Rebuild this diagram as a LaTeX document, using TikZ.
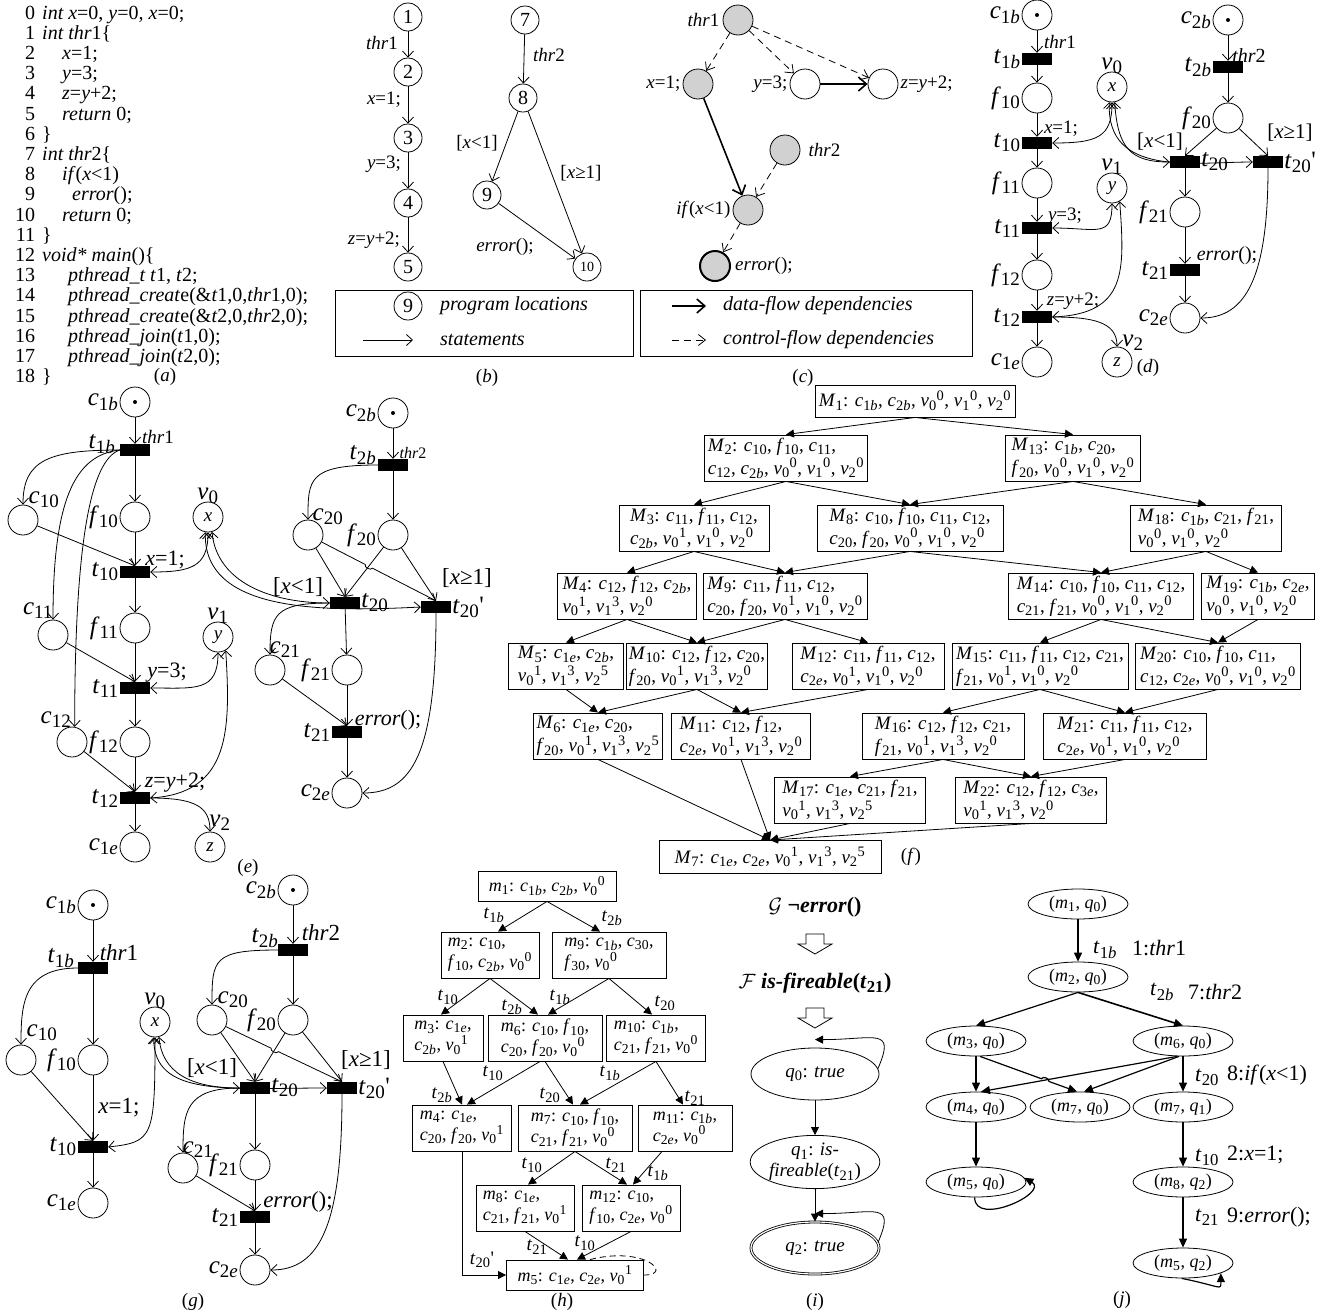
\documentclass[tikz,border=0pt]{standalone}
\usepackage{fontspec}
\setmainfont{Liberation Serif}
\usetikzlibrary{arrows.meta,positioning,calc,shapes.geometric}
\makeatletter
\def\defaultscriptratio{.76}
\makeatother

\newcommand{\fs}[2]{\fontsize{#1}{#2}\selectfont}
\newcommand{\plc}[2]{\textit{#1}\textsubscript{#2}}
\newcommand{\cb}[1]{\plc{c}{#1\textit{b}}}
\newcommand{\ce}[1]{\plc{c}{#1\textit{e}}}
\newcommand{\tb}[1]{\plc{t}{#1\textit{b}}}
\newcommand{\tp}{\plc{t}{20}\textquotesingle}
\newcommand{\vx}[2]{\textit{v}\textsubscript{#1}\textsuperscript{#2}}
\newcommand{\lno}[1]{\makebox[18pt][r]{#1}\hspace{7pt}}

\tikzset{
  code/.style={anchor=base west, inner sep=0pt, font=\fs{20}{20}},
  plab/.style={inner sep=0pt, font=\fs{19}{19}},
  place/.style={circle, draw, line width=0.8pt, minimum size=30pt, inner sep=0pt, font=\fs{19}{19}\itshape},
  trans/.style={fill=black, minimum width=30pt, minimum height=12pt, inner sep=0pt},
  pname/.style={inner sep=1pt, font=\fs{25}{25}},
  stmt/.style={inner sep=0pt, font=\fs{19}{19}},
  parc/.style={line width=0.8pt, -{Straight Barb[length=6pt,width=11pt]}},
  pbi/.style={line width=0.8pt, {Straight Barb[length=6pt,width=11pt]}-{Straight Barb[length=6pt,width=11pt]}},
  loc/.style={circle, draw, line width=0.8pt, minimum size=28pt, inner sep=0pt, font=\fs{20}{20}},
  dep/.style={circle, draw, line width=0.8pt, fill=black!18, minimum size=30pt, inner sep=0pt},
  dnode/.style={circle, draw, line width=0.8pt, minimum size=30pt, inner sep=0pt},
  dflow/.style={line width=1.6pt, -{Straight Barb[length=8pt,width=14pt]}},
  cflow/.style={line width=0.8pt, dash pattern=on 7pt off 5pt, -{Straight Barb[length=7pt,width=11pt]}},
  mk/.style={draw, line width=0.9pt, align=left, inner sep=2pt, minimum height=46pt, font=\fs{19}{23}},
  hk/.style={draw, line width=0.9pt, align=left, inner sep=2pt, minimum height=46pt, font=\fs{18}{21}},
  tri/.style={line width=0.8pt, -{Triangle[length=8pt,width=8pt]}},
  hlab/.style={inner sep=0pt, font=\fs{19}{19}},
  st/.style={ellipse, draw, line width=0.8pt, minimum width=100pt, minimum height=30pt, inner sep=0pt, font=\fs{18}{18}},
  qst/.style={ellipse, draw, line width=0.8pt, minimum width=128pt, minimum height=52pt, inner sep=0pt, align=center, font=\fs{19}{21}},
  jlab/.style={anchor=west, inner sep=0pt, font=\fs{22}{22}},
  jarr/.style={line width=1.2pt, -{Triangle[length=9pt,width=8pt]}},
  hollow/.style={line width=0.8pt, line join=miter},
}

\begin{document}
\begin{tikzpicture}[x=1pt,y=-1pt]
\useasboundingbox (0,0) rectangle (1342,1315);

%%%%% (a) %%%%%
\node[code] (a0) at (17,19) {\lno{0}\textit{int x}=0, \textit{y}=0, \textit{x}=0;};
\node[code] (a1) at (17,39.2) {\lno{1}\textit{int thr}1\{};
\node[code] (a2) at (17,59.4) {\lno{2}\hspace{20pt}\textit{x}=1;};
\node[code] (a3) at (17,79.6) {\lno{3}\hspace{20pt}\textit{y}=3;};
\node[code] (a4) at (17,99.8) {\lno{4}\hspace{20pt}\textit{z}=\textit{y}+2;};
\node[code] (a5) at (17,120) {\lno{5}\hspace{20pt}\textit{return} 0;};
\node[code] (a6) at (17,140.2) {\lno{6}\}};
\node[code] (a7) at (17,160.4) {\lno{7}\textit{int thr}2\{};
\node[code] (a8) at (17,180.6) {\lno{8}\hspace{20pt}\textit{if}(\textit{x}<1)};
\node[code] (a9) at (17,200.8) {\lno{9}\hspace{30pt}\textit{error}();};
\node[code] (a10) at (17,221) {\lno{10}\hspace{20pt}\textit{return} 0;};
\node[code] (a11) at (17,241.2) {\lno{11}\}};
\node[code] (a12) at (17,261.4) {\lno{12}\textit{void* main}()\{};
\node[code] (a13) at (17,281.6) {\lno{13}\hspace{26pt}\textit{pthread\_t t}1, \textit{t}2;};
\node[code] (a14) at (17,301.8) {\lno{14}\hspace{26pt}\textit{pthread\_creat}e(\&\textit{t}1,0,\textit{thr}1,0);};
\node[code] (a15) at (17,322) {\lno{15}\hspace{26pt}\textit{pthread\_creat}e(\&\textit{t}2,0,\textit{thr}2,0);};
\node[code] (a16) at (17,342.2) {\lno{16}\hspace{26pt}\textit{pthread\_join}(\textit{t}1,0);};
\node[code] (a17) at (17,362.4) {\lno{17}\hspace{26pt}\textit{pthread\_join}(\textit{t}2,0);};
\node[code] (a18) at (17,382.6) {\lno{18}\}};
\node[plab] (acap) at (165,377) {(\textit{a})};

%%%%% (b) %%%%%
\node[loc] (b1) at (408,17) {1};
\node[loc] (b2) at (408,72) {2};
\node[loc] (b3) at (408,138) {3};
\node[loc] (b4) at (408,203) {4};
\node[loc] (b5) at (408,267) {5};
\node[loc] (b7) at (525,20) {7};
\node[loc] (b8) at (523,98) {8};
\node[loc] (b9) at (487,195) {9};
\node[loc,font=\fs{14}{14}] (b10) at (587,267) {10};
\draw[parc] (b1) -- (b2);
\draw[parc] (b2) -- (b3);
\draw[parc] (b3) -- (b4);
\draw[parc] (b4) -- (b5);
\draw[parc] (b7) -- (b8);
\draw[parc] (b8) -- (b9);
\draw[parc] (b8) -- (b10);
\draw[parc] (b9) -- (b10);
\node[stmt] (lb1) at (382,43) {\textit{thr}1};
\node[stmt] (lb2) at (384,100) {\textit{x}=1;};
\node[stmt] (lb3) at (384,164) {\textit{y}=3;};
\node[stmt] (lb4) at (374,240) {\textit{z}=\textit{y}+2;};
\node[stmt] (lb7) at (549,55) {\textit{thr}2};
\node[stmt] (lb8) at (477,143) {[\textit{x}<1]};
\node[stmt] (lb9) at (581,173) {[\textit{x}≥1]};
\node[stmt] (lb10) at (505,247) {\textit{error}();};
\draw[line width=0.8pt] (335,290) rectangle (633,356);
\node[loc] (bleg) at (408,306) {9};
\node[stmt,anchor=west,font=\fs{20}{20}] (lbleg1) at (440,306) {\textit{program locations}};
\coordinate (bla) at (363,340);
\coordinate (blb) at (413,340);
\draw[parc] (bla) -- (blb);
\node[stmt,anchor=west,font=\fs{20}{20}] (lbleg2) at (440,340) {\textit{statements}};
\node[plab] (bcap) at (487,378) {(\textit{b})};

%%%%% (c) %%%%%
\node[dep] (cthr1) at (738,20) {};
\node[dep] (cx) at (698,84) {};
\node[dnode] (cy) at (805,84) {};
\node[dnode] (cz) at (883,84) {};
\node[dep] (cthr2) at (785,150) {};
\node[dep] (cif) at (748,210) {};
\node[dep,line width=2pt] (cerr) at (715,266) {};
\node[stmt,left=3pt of cthr1] (lcthr1) {\textit{thr}1};
\node[stmt,left=2pt of cx] (lcx) {\textit{x}=1;};
\node[stmt,left=2pt of cy] (lcy) {\textit{y}=3;};
\node[stmt,right=2pt of cz] (lcz) {\textit{z}=\textit{y}+2;};
\node[stmt,right=8pt of cthr2] (lcthr2) {\textit{thr}2};
\node[stmt,left=2pt of cif] (lcif) {\textit{if}(\textit{x}<1)};
\node[stmt,right=4pt of cerr] (lcerr) {\textit{error}();};
\draw[cflow] (cthr1) -- (cx);
\draw[cflow] (cthr1) -- (cy);
\draw[cflow] (cthr1) -- (cz);
\draw[dflow] (cy) -- (cz);
\draw[dflow] (cx) -- (cif);
\draw[cflow] (cthr2) -- (cif);
\draw[cflow] (cif) -- (cerr);
\draw[line width=0.8pt] (640,290) rectangle (972,356);
\coordinate (cla) at (672,306);
\coordinate (clb) at (706,306);
\draw[dflow] (cla) -- (clb);
\node[stmt,anchor=west,font=\fs{20}{20}] (lcleg1) at (723,306) {\textit{data-flow dependencies}};
\coordinate (clc) at (672,340);
\coordinate (cld) at (706,340);
\draw[cflow] (clc) -- (cld);
\node[stmt,anchor=west,font=\fs{20}{20}] (lcleg2) at (723,340) {\textit{control-flow dependencies}};
\node[plab] (ccap) at (803,378) {(\textit{c})};

%%%%% (d) %%%%%
\node[place] (dc1b) at (1037,15) {};
\fill (dc1b) circle (2);
\node[trans] (dt1b) at (1037,59) {};
\node[place] (df10) at (1037,98) {};
\node[trans] (dt10) at (1037,143) {};
\node[place] (df11) at (1037,183) {};
\node[trans] (dt11) at (1037,228) {};
\node[place] (df12) at (1037,275) {};
\node[trans] (dt12) at (1037,317) {};
\node[place] (dc1e) at (1037,362) {};
\node[place] (dv0) at (1112,87) {x};
\node[place] (dv1) at (1112,188) {y};
\node[place] (dv2) at (1117,362) {z};
\node[place] (dc2b) at (1228,20) {};
\fill (dc2b) circle (2);
\node[trans] (dt2b) at (1228,67) {};
\node[place] (df20) at (1228,118) {};
\node[trans] (dt20) at (1185,162) {};
\node[trans] (dt20p) at (1268,162) {};
\node[place] (df21) at (1185,212) {};
\node[trans] (dt21) at (1185,270) {};
\node[place] (dc2e) at (1185,318) {};
\node[pname,left=0pt of dc1b] (ldc1b) {\cb{1}};
\node[pname,left=0pt of dt1b] (ldt1b) {\tb{1}};
\node[pname,left=0pt of df10] (ldf10) {\plc{f}{10}};
\node[pname,left=0pt of dt10] (ldt10) {\plc{t}{10}};
\node[pname,left=0pt of df11] (ldf11) {\plc{f}{11}};
\node[pname,left=0pt of dt11] (ldt11) {\plc{t}{11}};
\node[pname,left=0pt of df12] (ldf12) {\plc{f}{12}};
\node[pname,left=0pt of dt12] (ldt12) {\plc{t}{12}};
\node[pname,left=0pt of dc1e] (ldc1e) {\ce{1}};
\node[pname,above=-3pt of dv0] (ldv0) {\plc{v}{0}};
\node[pname,above=-3pt of dv1] (ldv1) {\plc{v}{1}};
\node[pname] (ldv2) at (1133,343) {\plc{v}{2}};
\node[pname,left=0pt of dc2b] (ldc2b) {\cb{2}};
\node[pname,left=0pt of dt2b] (ldt2b) {\tb{2}};
\node[pname,left=0pt of df20] (ldf20) {\plc{f}{20}};
\node[pname,right=0pt of dt20] (ldt20) {\plc{t}{20}};
\node[pname,right=0pt of dt20p] (ldt20p) {\tp};
\node[pname,left=0pt of df21] (ldf21) {\plc{f}{21}};
\node[pname,left=0pt of dt21] (ldt21) {\plc{t}{21}};
\node[pname,left=0pt of dc2e] (ldc2e) {\ce{2}};
\node[stmt] (sdthr1) at (1060,42) {\textit{thr}1};
\node[stmt,font=\fs{20}{20}] (sdthr2) at (1249,56) {\textit{thr}2};
\node[stmt] (sdx) at (1061,129) {\textit{x}=1;};
\node[stmt] (sdy) at (1065,216) {\textit{y}=3;};
\node[stmt] (sdz) at (1073,301) {\textit{z}=\textit{y}+2;};
\node[stmt,font=\fs{21}{21}] (sdlt) at (1160,142) {[\textit{x}<1]};
\node[stmt,font=\fs{21}{21}] (sdge) at (1290,133) {[\textit{x}≥1]};
\node[stmt,font=\fs{20}{20}] (sderr) at (1227,256) {\textit{error}();};
\node[plab] (dcap) at (1148,368) {(\textit{d})};
\draw[parc] (dc1b) -- (dt1b);
\draw[parc] (dt1b) -- (df10);
\draw[parc] (df10) -- (dt10);
\draw[parc] (dt10) -- (df11);
\draw[parc] (df11) -- (dt11);
\draw[parc] (dt11) -- (df12);
\draw[parc] (df12) -- (dt12);
\draw[parc] (dt12) -- (dc1e);
\draw[pbi] (dt10.east) .. controls +(45,0) and +(0,35) .. (dv0.south);
\draw[pbi] (dt11.east) .. controls +(45,0) and +(0,35) .. (dv1.south);
\draw[pbi] (dt12.east) .. controls +(75,-3) and +(5,70) .. (dv1.-60);
\draw[parc] (dt12.east) .. controls +(40,0) and +(0,-25) .. (dv2.north);
\draw[pbi] (dv0.-80) .. controls +(3,45) and +(-40,0) .. (dt20.west);
\draw[pbi] (dv0.-100) .. controls +(-3,75) and +(-60,0) .. (dt20p.west);
\draw[parc] (dc2b) -- (dt2b);
\draw[parc] (dt2b) -- (df20);
\draw[parc] (df20) -- (dt20.north);
\draw[parc] (df20) -- (dt20p.north);
\draw[parc] (dt20) -- (df21);
\draw[parc] (df21) -- (dt21);
\draw[parc] (dt21) -- (dc2e);
\draw[parc] (dt20p.south) .. controls +(0,110) and +(45,0) .. (dc2e.east);

%%%%% (e) %%%%%
\node[place] (ec1b) at (135,402) {};
\fill (ec1b) circle (2);
\node[trans] (et1b) at (135,450) {};
\node[place] (ec10) at (23,520) {};
\node[place] (ef10) at (135,517) {};
\node[trans] (et10) at (135,572) {};
\node[place] (ec11) at (53,635) {};
\node[place] (ef11) at (135,628) {};
\node[trans] (et11) at (135,688) {};
\node[place] (ec12) at (72,742) {};
\node[place] (ef12) at (135,742) {};
\node[trans] (et12) at (135,798) {};
\node[place] (ec1e) at (135,847) {};
\node[place] (ev0) at (208,517) {x};
\node[place] (ev1) at (218,637) {y};
\node[place] (ev2) at (210,847) {z};
\node[place] (ec2b) at (393,413) {};
\fill (ec2b) circle (2);
\node[trans] (et2b) at (393,465) {};
\node[place] (ec20) at (308,535) {};
\node[place] (ef20) at (393,535) {};
\node[trans] (et20) at (345,603) {};
\node[trans] (et20p) at (436,607) {};
\node[place] (ec21) at (270,670) {};
\node[place] (ef21) at (347,670) {};
\node[trans] (et21) at (347,732) {};
\node[place] (ec2e) at (347,793) {};
\node[pname,left=0pt of ec1b] (lec1b) {\cb{1}};
\node[pname] (let1b) at (102,444) {\tb{1}};
\node[pname] (lec10) at (44,500) {\plc{c}{10}};
\node[pname,left=0pt of ef10] (lef10) {\plc{f}{10}};
\node[pname,left=0pt of et10] (let10) {\plc{t}{10}};
\node[pname] (lec11) at (38,611) {\plc{c}{11}};
\node[pname,left=0pt of ef11] (lef11) {\plc{f}{11}};
\node[pname,left=0pt of et11] (let11) {\plc{t}{11}};
\node[pname] (lec12) at (56,720) {\plc{c}{12}};
\node[pname,left=0pt of ef12] (lef12) {\plc{f}{12}};
\node[pname,left=0pt of et12] (let12) {\plc{t}{12}};
\node[pname,left=0pt of ec1e] (lec1e) {\ce{1}};
\node[pname,above=-3pt of ev0] (lev0) {\plc{v}{0}};
\node[pname,above=-3pt of ev1] (lev1) {\plc{v}{1}};
\node[pname] (lev2) at (220,823) {\plc{v}{2}};
\node[pname,left=0pt of ec2b] (lec2b) {\cb{2}};
\node[pname] (let2b) at (363,455) {\tb{2}};
\node[pname] (lec20) at (328,517) {\plc{c}{20}};
\node[pname,left=0pt of ef20] (lef20) {\plc{f}{20}};
\node[pname,right=0pt of et20] (let20) {\plc{t}{20}};
\node[pname,right=0pt of et20p] (let20p) {\tp};
\node[pname] (lec21) at (285,650) {\plc{c}{21}};
\node[pname,left=0pt of ef21] (lef21) {\plc{f}{21}};
\node[pname,left=0pt of et21] (let21) {\plc{t}{21}};
\node[pname,left=0pt of ec2e] (lec2e) {\ce{2}};
\node[stmt] (sethr1) at (158,437) {\textit{thr}1};
\node[stmt,font=\fs{16}{16}] (sethr2) at (413,453) {\textit{thr}2};
\node[stmt,font=\fs{22}{22}] (sex) at (165,560) {\textit{x}=1;};
\node[stmt,font=\fs{22}{22}] (sey) at (167,673) {\textit{y}=3;};
\node[stmt,font=\fs{22}{22}] (sez) at (175,783) {\textit{z}=\textit{y}+2;};
\node[stmt,font=\fs{23}{23}] (selt) at (298,587) {[\textit{x}<1]};
\node[stmt,font=\fs{23}{23}] (sege) at (467,578) {[\textit{x}≥1]};
\node[stmt,font=\fs{22}{22}] (seerr) at (388,720) {\textit{error}();};
\node[plab] (ecap) at (248,868) {(\textit{e})};
\draw[parc] (ec1b) -- (et1b);
\draw[parc] (et1b) -- (ef10);
\draw[parc] (ef10) -- (et10);
\draw[parc] (et10) -- (ef11);
\draw[parc] (ef11) -- (et11);
\draw[parc] (et11) -- (ef12);
\draw[parc] (ef12) -- (et12);
\draw[parc] (et12) -- (ec1e);
\draw[parc] (et1b.west) .. controls +(-70,0) and +(0,-45) .. (ec10.north);
\draw[parc] (et1b.west) .. controls +(-45,5) and +(0,-120) .. (ec11.north);
\draw[parc] (et1b.west) .. controls +(-30,10) and +(0,-180) .. (ec12.80);
\draw[parc] (ec10) -- (et10.north);
\draw[parc] (ec11) -- (et11.north);
\draw[parc] (ec12) -- (et12.north);
\draw[pbi] (et10.east) .. controls +(40,0) and +(0,35) .. (ev0.south);
\draw[pbi] (et11.east) .. controls +(45,0) and +(0,40) .. (ev1.south);
\draw[pbi] (et12.east) .. controls +(80,-5) and +(5,80) .. (ev1.-60);
\draw[parc] (et12.east) .. controls +(45,0) and +(0,-25) .. (ev2.north);
\draw[pbi] (ev0.-75) .. controls +(5,50) and +(-60,0) .. (et20.west);
\draw[pbi] (ev0.-100) .. controls +(-2,80) and +(-100,5) .. (et20p.west);
\draw[parc] (ec2b) -- (et2b);
\draw[parc] (et2b) -- (ef20);
\draw[parc] (et2b.west) .. controls +(-70,0) and +(0,-40) .. (ec20.north);
\draw[parc] (ec20) -- (et20.north);
\draw[parc] (ef20) -- (et20.north);
\coordinate (ehop) at (intersection of ec20--et20p.north and ef20--et20.north);
\draw[parc] (ec20) -- ($(ehop)!4pt!(ec20)$) to[bend right=90] ($(ehop)!4pt!(et20p.north)$) -- (et20p.north);
\draw[parc] (ef20) -- (et20p.north);
\draw[parc] (et20.west) .. controls +(-55,0) and +(0,-40) .. (ec21.north);
\draw[parc] (et20) -- (ef21);
\draw[parc] (ec21) -- (et21.north);
\draw[parc] (ef21) -- (et21);
\draw[parc] (et21) -- (ec2e);
\draw[parc] (et20p.south) .. controls +(0,140) and +(50,0) .. (ec2e.east);

%%%%% (f) %%%%%
\node[mk,minimum width=200pt,minimum height=32pt] (M1) at (915,401) {\plc{M}{1}: \cb{1}, \cb{2}, \vx{0}{0}, \vx{1}{0}, \vx{2}{0}};
\node[mk,minimum width=163pt] (M2) at (786,458) {\plc{M}{2}: \plc{c}{10}, \plc{f}{10}, \plc{c}{11},\\ \plc{c}{12}, \cb{2}, \vx{0}{0}, \vx{1}{0}, \vx{2}{0}};
\node[mk,minimum width=135pt] (M13) at (1073,458) {\plc{M}{13}: \cb{1}, \plc{c}{20},\\ \plc{f}{20}, \vx{0}{0}, \vx{1}{0}, \vx{2}{0}};
\node[mk,minimum width=150pt] (M3) at (694,528) {\plc{M}{3}: \plc{c}{11}, \plc{f}{11}, \plc{c}{12},\\ \cb{2}, \vx{0}{1}, \vx{1}{0}, \vx{2}{0}};
\node[mk,minimum width=186pt] (M8) at (910,528) {\plc{M}{8}: \plc{c}{10}, \plc{f}{10}, \plc{c}{11}, \plc{c}{12},\\ \plc{c}{20}, \plc{f}{20}, \vx{0}{0}, \vx{1}{0}, \vx{2}{0}};
\node[mk,minimum width=151pt] (M18) at (1206,528) {\plc{M}{18}: \cb{1}, \plc{c}{21}, \plc{f}{21},\\ \vx{0}{0}, \vx{1}{0}, \vx{2}{0}};
\node[mk,minimum width=139pt] (M4) at (627,596) {\plc{M}{4}: \plc{c}{12}, \plc{f}{12}, \cb{2},\\ \vx{0}{1}, \vx{1}{3}, \vx{2}{0}};
\node[mk,minimum width=164pt] (M9) at (785,596) {\plc{M}{9}: \plc{c}{11}, \plc{f}{11}, \plc{c}{12},\\ \plc{c}{20}, \plc{f}{20}, \vx{0}{1}, \vx{1}{0}, \vx{2}{0}};
\node[mk,minimum width=185pt] (M14) at (1101,596) {\plc{M}{14}: \plc{c}{10}, \plc{f}{10}, \plc{c}{11}, \plc{c}{12},\\ \plc{c}{21}, \plc{f}{21}, \vx{0}{0}, \vx{1}{0}, \vx{2}{0}};
\node[mk,minimum width=113pt] (M19) at (1258,596) {\plc{M}{19}: \cb{1}, \ce{2},\\ \vx{0}{0}, \vx{1}{0}, \vx{2}{0}};
\node[mk,minimum width=115pt] (M5) at (566,666) {\plc{M}{5}: \ce{1}, \cb{2},\\ \vx{0}{1}, \vx{1}{3}, \vx{2}{5}};
\node[mk,minimum width=132pt] (M10) at (697,666) {\plc{M}{10}: \plc{c}{12}, \plc{f}{12}, \plc{c}{20},\\ \plc{f}{20}, \vx{0}{1}, \vx{1}{3}, \vx{2}{0}};
\node[mk,minimum width=152pt] (M12) at (868,666) {\plc{M}{12}: \plc{c}{11}, \plc{f}{11}, \plc{c}{12},\\ \ce{2}, \vx{0}{1}, \vx{1}{0}, \vx{2}{0}};
\node[mk,minimum width=176pt] (M15) at (1040,666) {\plc{M}{15}: \plc{c}{11}, \plc{f}{11}, \plc{c}{12}, \plc{c}{21},\\ \plc{f}{21}, \vx{0}{1}, \vx{1}{0}, \vx{2}{0}};
\node[mk,minimum width=165pt] (M20) at (1218,666) {\plc{M}{20}: \plc{c}{10}, \plc{f}{10}, \plc{c}{11},\\ \plc{c}{12}, \ce{2}, \vx{0}{0}, \vx{1}{0}, \vx{2}{0}};
\node[mk,minimum width=129pt] (M6) at (598,736) {\plc{M}{6}: \ce{1}, \plc{c}{20},\\ \plc{f}{20}, \vx{0}{1}, \vx{1}{3}, \vx{2}{5}};
\node[mk,minimum width=139pt] (M11) at (741,736) {\plc{M}{11}: \plc{c}{12}, \plc{f}{12},\\ \ce{2}, \vx{0}{1}, \vx{1}{3}, \vx{2}{0}};
\node[mk,minimum width=162pt] (M16) at (943,736) {\plc{M}{16}: \plc{c}{12}, \plc{f}{12}, \plc{c}{21},\\ \plc{f}{21}, \vx{0}{1}, \vx{1}{3}, \vx{2}{0}};
\node[mk,minimum width=163pt] (M21) at (1125,736) {\plc{M}{21}: \plc{c}{11}, \plc{f}{11}, \plc{c}{12},\\ \ce{2}, \vx{0}{1}, \vx{1}{0}, \vx{2}{0}};
\node[mk,minimum width=151pt] (M17) at (850,800) {\plc{M}{17}: \ce{1}, \plc{c}{21}, \plc{f}{21},\\ \vx{0}{1}, \vx{1}{3}, \vx{2}{5}};
\node[mk,minimum width=151pt] (M22) at (1031,800) {\plc{M}{22}: \plc{c}{12}, \plc{f}{12}, \ce{3},\\ \vx{0}{1}, \vx{1}{3}, \vx{2}{0}};
\node[mk,minimum width=222pt,minimum height=33pt] (M7) at (770,857) {\plc{M}{7}: \ce{1}, \ce{2}, \vx{0}{1}, \vx{1}{3}, \vx{2}{5}};
\node[plab] (fcap) at (911,857) {(\textit{f})};
\draw[tri] (M1.south) -- (M2.north);
\draw[tri] (M1.south) -- (M13.north);
\draw[tri] (M2.south) -- (M3.north);
\draw[tri] (M2.south) -- (M8.north);
\draw[tri] (M13.south) -- (M8.north);
\draw[tri] (M13.south) -- (M18.north);
\draw[tri] (M3.south) -- (M4.north);
\draw[tri] (M3.south) -- (M9.north);
\draw[tri] (M8.south) -- (M9.north);
\draw[tri] (M8.south) -- (M14.north);
\draw[tri] (M18.south) -- (M14.north);
\draw[tri] (M18.south) -- (M19.north);
\draw[tri] (M4.south) -- (M5.north);
\draw[tri] (M4.south) -- (M10.north);
\draw[tri] (M9.south) -- (M10.north);
\draw[tri] (M9.south) -- (M12.north);
\draw[tri] (M14.south) -- (M15.north);
\draw[tri] (M14.south) -- (M20.north);
\draw[tri] (M19.south) -- (M20.north);
\draw[tri] (M5.south) -- (M6.north);
\draw[tri] (M10.south) -- (M6.north);
\draw[tri] (M10.south) -- (M11.north);
\draw[tri] (M12.south) -- (M11.north);
\draw[tri] (M15.south) -- (M16.north);
\draw[tri] (M15.south) -- (M21.north);
\draw[tri] (M20.south) -- (M21.north);
\draw[tri] (M16.south) -- (M17.north);
\draw[tri] (M16.south) -- (M22.north);
\draw[tri] (M21.south) -- (M22.north);
\draw[tri] (M6.south) -- (M7.north);
\draw[tri] (M11.south) -- (M7.north);
\draw[tri] (M17.south) -- (M7.north);
\draw[tri] (M22.south) -- (M7.north);

%%%%% (g) %%%%%
\node[place] (gc1b) at (93,905) {};
\fill (gc1b) circle (2);
\node[trans] (gt1b) at (93,968) {};
\node[place] (gc10) at (21,1060) {};
\node[place] (gf10) at (93,1060) {};
\node[trans] (gt10) at (93,1147) {};
\node[place] (gc1e) at (93,1203) {};
\node[place] (gv0) at (155,1022) {x};
\node[place] (gc2b) at (293,890) {};
\fill (gc2b) circle (2);
\node[trans] (gt2b) at (293,950) {};
\node[place] (gc20) at (212,1020) {};
\node[place] (gf20) at (293,1020) {};
\node[trans] (gt20) at (255,1088) {};
\node[trans] (gt20p) at (342,1088) {};
\node[place] (gc21) at (183,1168) {};
\node[place] (gf21) at (255,1165) {};
\node[trans] (gt21) at (255,1217) {};
\node[place] (gc2e) at (255,1270) {};
\node[pname,left=0pt of gc1b] (lgc1b) {\cb{1}};
\node[pname] (lgt1b) at (61,958) {\tb{1}};
\node[pname] (lgc10) at (42,1033) {\plc{c}{10}};
\node[pname,left=0pt of gf10] (lgf10) {\plc{f}{10}};
\node[pname,left=0pt of gt10] (lgt10) {\plc{t}{10}};
\node[pname,left=0pt of gc1e] (lgc1e) {\ce{1}};
\node[pname,above=-3pt of gv0] (lgv0) {\plc{v}{0}};
\node[pname,left=0pt of gc2b] (lgc2b) {\cb{2}};
\node[pname] (lgt2b) at (265,938) {\tb{2}};
\node[pname] (lgc20) at (233,1000) {\plc{c}{20}};
\node[pname,left=0pt of gf20] (lgf20) {\plc{f}{20}};
\node[pname,right=0pt of gt20] (lgt20) {\plc{t}{20}};
\node[pname,right=0pt of gt20p] (lgt20p) {\tp};
\node[pname] (lgc21) at (198,1150) {\plc{c}{21}};
\node[pname,left=0pt of gf21] (lgf21) {\plc{f}{21}};
\node[pname,left=0pt of gt21] (lgt21) {\plc{t}{21}};
\node[pname,left=0pt of gc2e] (lgc2e) {\ce{2}};
\node[stmt,font=\fs{23}{23}] (sgthr1) at (119,953) {\textit{thr}1};
\node[stmt,font=\fs{23}{23}] (sgthr2) at (321,933) {\textit{thr}2};
\node[stmt,font=\fs{23}{23}] (sgx) at (119,1108) {\textit{x}=1;};
\node[stmt,font=\fs{23}{23}] (sglt) at (212,1068) {[\textit{x}<1]};
\node[stmt,font=\fs{23}{23}] (sgge) at (366,1060) {[\textit{x}≥1]};
\node[stmt,font=\fs{23}{23}] (sgerr) at (298,1202) {\textit{error}();};
\node[plab] (gcap) at (193,1302) {(\textit{g})};
\draw[parc] (gc1b) -- (gt1b);
\draw[parc] (gt1b) -- (gf10);
\draw[parc] (gf10) -- (gt10);
\draw[parc] (gt10) -- (gc1e);
\draw[parc] (gt1b.west) .. controls +(-55,0) and +(0,-40) .. (gc10.north);
\draw[parc] (gc10) -- (gt10.north);
\draw[pbi] (gt10.east) .. controls +(45,-5) and +(0,100) .. (gv0.south);
\draw[pbi] (gv0.-75) .. controls +(3,35) and +(-50,0) .. (gt20.west);
\draw[pbi] (gv0.-95) .. controls +(0,60) and +(-100,0) .. (gt20p.west);
\draw[parc] (gc2b) -- (gt2b);
\draw[parc] (gt2b) -- (gf20);
\draw[parc] (gt2b.west) .. controls +(-65,0) and +(0,-45) .. (gc20.north);
\draw[parc] (gc20) -- (gt20.north);
\draw[parc] (gf20) -- (gt20.north);
\coordinate (ghop) at (intersection of gc20--gt20p.north and gf20--gt20.north);
\draw[parc] (gc20) -- ($(ghop)!4pt!(gc20)$) to[bend right=90] ($(ghop)!4pt!(gt20p.north)$) -- (gt20p.north);
\draw[parc] (gf20) -- (gt20p.north);
\draw[parc] (gt20.west) .. controls +(-55,0) and +(0,-40) .. (gc21.north);
\draw[parc] (gt20) -- (gf21);
\draw[parc] (gc21) -- (gt21.north);
\draw[parc] (gf21) -- (gt21);
\draw[parc] (gt21) -- (gc2e);
\draw[parc] (gt20p.south) .. controls +(0,130) and +(50,0) .. (gc2e.east);

%%%%% (h) %%%%%
\node[hk,minimum width=138pt,minimum height=30pt] (hm1) at (547,886) {\plc{m}{1}: \cb{1}, \cb{2}, \vx{0}{0}};
\node[hk,minimum width=98pt] (hm2) at (490,955) {\plc{m}{2}: \plc{c}{10},\\ \plc{f}{10}, \cb{2}, \vx{0}{0}};
\node[hk,minimum width=114pt] (hm9) at (609,955) {\plc{m}{9}: \cb{1}, \plc{c}{30},\\ \plc{f}{30}, \vx{0}{0}};
\node[hk,minimum width=80pt] (hm3) at (443,1038) {\plc{m}{3}: \ce{1},\\ \cb{2}, \vx{0}{1}};
\node[hk,minimum width=114pt] (hm6) at (545,1038) {\plc{m}{6}: \plc{c}{10}, \plc{f}{10},\\ \plc{c}{20}, \plc{f}{20}, \vx{0}{0}};
\node[hk,minimum width=99pt] (hm10) at (656,1038) {\plc{m}{10}: \cb{1},\\ \plc{c}{21}, \plc{f}{21}, \vx{0}{0}};
\node[hk,minimum width=99pt] (hm4) at (462,1128) {\plc{m}{4}: \ce{1},\\ \plc{c}{20}, \plc{f}{20}, \vx{0}{1}};
\node[hk,minimum width=114pt] (hm7) at (575,1128) {\plc{m}{7}: \plc{c}{10}, \plc{f}{10},\\ \plc{c}{21}, \plc{f}{21}, \vx{0}{0}};
\node[hk,minimum width=94pt] (hm11) at (685,1128) {\plc{m}{11}: \cb{1},\\ \ce{2}, \vx{0}{0}};
\node[hk,minimum width=98pt] (hm8) at (525,1208) {\plc{m}{8}: \ce{1},\\ \plc{c}{21}, \plc{f}{21}, \vx{0}{1}};
\node[hk,minimum width=98pt] (hm12) at (631,1208) {\plc{m}{12}: \plc{c}{10},\\ \plc{f}{10}, \ce{2}, \vx{0}{0}};
\node[hk,minimum width=137pt,minimum height=30pt] (hm5) at (575,1275) {\plc{m}{5}: \ce{1}, \ce{2}, \vx{0}{1}};
\node[plab] (hcap) at (562,1302) {(\textit{h})};
\draw[tri] (hm1.south) -- ([xshift=8pt]hm2.north);
\draw[tri] (hm1.south) -- ([xshift=-9pt]hm9.north);
\draw[tri] (hm2.south) -- ([xshift=-2pt]hm3.north);
\draw[tri] (hm2.south) -- ([xshift=-7pt]hm6.north);
\draw[tri] (hm9.south) -- ([xshift=3pt]hm6.north);
\draw[tri] (hm9.south) -- ([xshift=-4pt]hm10.north);
\draw[tri] (hm3.south) -- (hm4.north);
\draw[tri] ([xshift=-5pt]hm6.south) -- ([xshift=5pt]hm4.north);
\draw[tri] (hm6.south) -- ([xshift=-2pt]hm7.north);
\draw[tri] (hm10.south) -- ([xshift=5pt]hm7.north);
\draw[tri] (hm10.south) -- ([xshift=-2pt]hm11.north);
\draw[tri] (hm7.south) -- ([xshift=3pt]hm8.north);
\draw[tri] (hm7.south) -- ([xshift=-4pt]hm12.north);
\draw[tri] ([xshift=-23pt]hm11.south) -- ([xshift=2pt]hm12.north);
\draw[tri] (hm8.south) -- ([xshift=-7pt]hm5.north);
\draw[tri] (hm12.south) -- ([xshift=2pt]hm5.north);
\draw[tri] (hm4.south) |- (hm5.west);
\draw[line width=0.8pt,dash pattern=on 6pt off 4pt] ([xshift=15pt]hm5.north) .. controls +(55,-14) and +(30,0) .. (hm5.east);
\node[hlab] (lh1) at (494,915) {\tb{1}};
\node[hlab] (lh2) at (612,918) {\tb{2}};
\node[hlab] (lh3) at (448,997) {\plc{t}{10}};
\node[hlab] (lh4) at (512,1007) {\tb{2}};
\node[hlab] (lh5) at (560,997) {\tb{1}};
\node[hlab] (lh6) at (665,1003) {\plc{t}{20}};
\node[hlab] (lh7) at (493,1073) {\plc{t}{10}};
\node[hlab] (lh8) at (610,1073) {\tb{1}};
\node[hlab] (lh9) at (442,1095) {\tb{2}};
\node[hlab] (lh10) at (550,1095) {\plc{t}{20}};
\node[hlab] (lh11) at (695,1098) {\plc{t}{21}};
\node[hlab] (lh12) at (532,1165) {\plc{t}{10}};
\node[hlab] (lh13) at (616,1165) {\plc{t}{21}};
\node[hlab] (lh14) at (658,1173) {\tb{1}};
\node[hlab] (lh15) at (537,1247) {\plc{t}{21}};
\node[hlab] (lh16) at (585,1243) {\plc{t}{10}};
\node[hlab] (lh17) at (482,1260) {\tp};

%%%%% (i) %%%%%
\node[inner sep=0pt,font=\fs{22}{22}] (iG) at (815,907) {$\mathcal{G}$ \textbf{¬\textit{error}()}};
\coordinate (ia1) at (815,934);
\draw[hollow] (ia1) ++(-9,0) -- ++(18,0) -- ++(0,10) -- ++(8,0) -- ++(-17,10) -- ++(-17,-10) -- ++(8,0) -- cycle;
\node[inner sep=0pt,font=\fs{22}{22}] (iF) at (815,983) {$\mathcal{F}$ \textbf{\textit{is-fireable}(\textit{t}\textsubscript{21})}};
\coordinate (ia2) at (815,1008);
\draw[hollow] (ia2) ++(-9,0) -- ++(18,0) -- ++(0,10) -- ++(8,0) -- ++(-17,10) -- ++(-17,-10) -- ++(8,0) -- cycle;
\node[qst] (iq0) at (815,1074) {\plc{q}{0}: \textit{true}};
\node[qst] (iq1) at (815,1162) {\plc{q}{1}: \textit{is-}\\\textit{fireable}(\plc{t}{21})};
\node[qst,double,double distance=1.2pt] (iq2) at (815,1248) {\plc{q}{2}: \textit{true}};
\node[plab] (icap) at (815,1302) {(\textit{i})};
\draw[tri] (iq0) -- (iq1);
\draw[tri] (iq1) -- (iq2);
\draw[tri] (iq0.5) .. controls +(18,-42) and +(60,0) .. ($(iq0.north)+(0,-8)$);
\draw[tri] (iq2.5) .. controls +(18,-42) and +(60,0) .. ($(iq2.north)+(0,-8)$);

%%%%% (j) %%%%%
\node[st] (jm1) at (1078,904) {(\plc{m}{1}, \plc{q}{0})};
\node[st] (jm2) at (1078,977) {(\plc{m}{2}, \plc{q}{0})};
\node[st] (jm3) at (976,1041) {(\plc{m}{3}, \plc{q}{0})};
\node[st] (jm6) at (1183,1041) {(\plc{m}{6}, \plc{q}{0})};
\node[st] (jm4) at (976,1107) {(\plc{m}{4}, \plc{q}{0})};
\node[st] (jm7a) at (1080,1107) {(\plc{m}{7}, \plc{q}{0})};
\node[st] (jm7b) at (1183,1107) {(\plc{m}{7}, \plc{q}{1})};
\node[st] (jm5a) at (976,1182) {(\plc{m}{5}, \plc{q}{0})};
\node[st] (jm8) at (1183,1182) {(\plc{m}{8}, \plc{q}{2})};
\node[st] (jm5b) at (1183,1263) {(\plc{m}{5}, \plc{q}{2})};
\node[plab] (jcap) at (1122,1300) {(\textit{j})};
\coordinate (j3s) at ([xshift=4pt]jm3.south);
\coordinate (j7n) at ([xshift=-3pt]jm7a.north);
\coordinate (j6s) at ([xshift=-6pt]jm6.south);
\coordinate (j4n) at ([xshift=5pt]jm4.north);
\coordinate (jhop) at (intersection of j3s--j7n and j6s--j4n);
\draw[jarr] (jm1) -- (jm2);
\draw[jarr] (jm2.south) -- (jm3.north);
\draw[jarr,line width=1.6pt] (jm2.south) -- (jm6.north);
\draw[jarr] (jm3) -- (jm4);
\draw[jarr] (j3s) -- ($(jhop)!4pt!(j3s)$) to[bend left=90] ($(jhop)!4pt!(j7n)$) -- (j7n);
\draw[jarr] (j6s) -- (j4n);
\draw[jarr] ([xshift=-4pt]jm6.south) -- ([xshift=4pt]jm7a.north);
\draw[jarr] (jm6) -- (jm7b);
\draw[jarr] (jm4) -- (jm5a);
\draw[jarr] (jm7b) -- (jm8);
\draw[jarr] (jm8) -- (jm5b);
\draw[jarr] (jm5a.-95) .. controls +(0,30) and +(25,15) .. (jm5a.5);
\draw[jarr] (jm5b.-95) .. controls +(40,8) and +(0,18) .. (jm5b.-15);
\node[jlab] (jl1) at (1093,950) {\tb{1}};
\node[jlab] (jl1s) at (1132,948) {1:\textit{thr}1};
\node[jlab] (jl2) at (1150,992) {\tb{2}};
\node[jlab] (jl2s) at (1188,992) {7:\textit{thr}2};
\node[jlab] (jl3) at (1195,1077) {\plc{t}{20}};
\node[jlab] (jl3s) at (1227,1075) {8:\textit{if}(\textit{x}<1)};
\node[jlab] (jl4) at (1195,1157) {\plc{t}{10}};
\node[jlab] (jl4s) at (1227,1155) {2:\textit{x}=1;};
\node[jlab] (jl5) at (1195,1217) {\plc{t}{21}};
\node[jlab] (jl5s) at (1227,1217) {9:\textit{error}();};
\end{tikzpicture}
\end{document}
